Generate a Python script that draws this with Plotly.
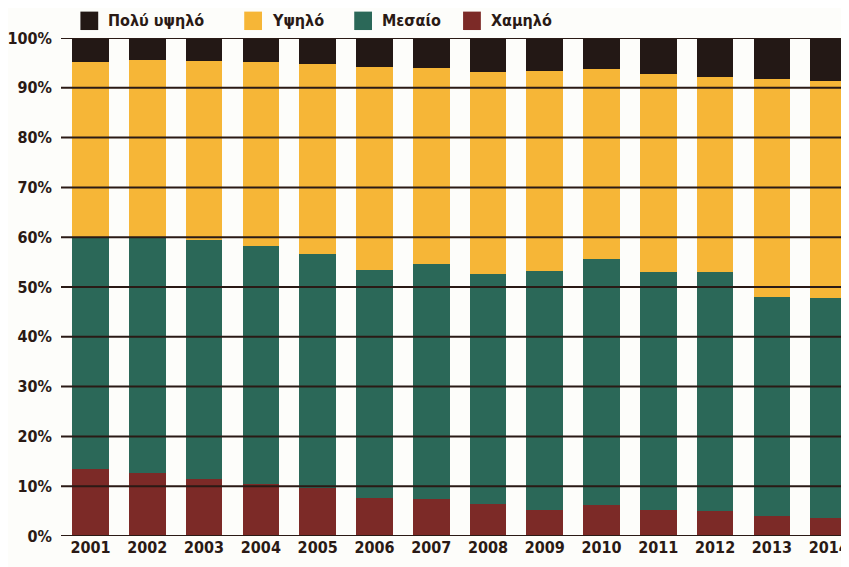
import plotly.graph_objects as go

years = ["2001", "2002", "2003", "2004", "2005", "2006", "2007", "2008",
         "2009", "2010", "2011", "2012", "2013", "2014"]
low = [13.5, 12.7, 11.5, 10.5, 9.7, 7.7, 7.4, 6.4, 5.3, 6.2, 5.2, 5.1, 4.0, 3.7]
medium = [46.5, 47.3, 48.0, 47.8, 46.9, 45.7, 47.2, 46.2, 48.0, 49.5, 47.8, 47.9, 44.0, 44.1]
high = [35.2, 35.6, 35.8, 36.9, 38.1, 40.8, 39.4, 40.5, 40.0, 38.0, 39.7, 39.1, 43.8, 43.5]
very_high = [4.8, 4.4, 4.7, 4.8, 5.3, 5.8, 6.0, 6.9, 6.7, 6.3, 7.3, 7.9, 8.2, 8.7]

series = [
    ("Χαμηλό", low, "#7c2a27"),
    ("Μεσαίο", medium, "#2b6858"),
    ("Υψηλό", high, "#f6b637"),
    ("Πολύ υψηλό", very_high, "#231815"),
]
legend_order = ["Πολύ υψηλό", "Υψηλό", "Μεσαίο", "Χαμηλό"]
legend_swatch_x = [0.0248, 0.234, 0.3745, 0.5135]   # paper fractions of legend swatches
y_ticks = [0, 10, 20, 30, 40, 50, 60, 70, 80, 90, 100]

FONT = "DejaVu Sans Condensed, Liberation Sans Narrow, Arial Narrow, sans-serif"
INK = "#2a1a15"

fig = go.Figure()
for name, vals, col in series:
    fig.add_trace(go.Bar(x=years, y=vals, name=name, showlegend=False,
                         marker=dict(color=col, line=dict(width=0))))

shapes = []
for t in y_ticks:
    shapes.append(dict(type="line", xref="paper", yref="y", x0=0, x1=1, y0=t, y1=t,
                       line=dict(color=INK, width=2), layer="above"))

colors = {n: c for n, _, c in series}
annotations = []
sw_w = 18 / 792
for name, sx in zip(legend_order, legend_swatch_x):
    shapes.append(dict(type="rect", xref="paper", yref="paper", x0=sx, x1=sx + sw_w,
                       y0=1.016, y1=1.053, fillcolor=colors[name], line=dict(width=0)))
    annotations.append(dict(text=name, xref="paper", yref="paper", x=sx + sw_w + 8 / 792,
                            y=1.0345, xanchor="left", yanchor="middle", showarrow=False,
                            font=dict(size=16, family=FONT, color=INK, weight="bold")))

fig.update_layout(
    barmode="stack",
    bargap=0.355,
    width=841, height=559,
    margin=dict(l=49, r=0, t=30, b=31),
    paper_bgcolor="#fdfdfa",
    plot_bgcolor="#fdfdfa",
    font=dict(family=FONT, color=INK, size=16),
    shapes=shapes,
    annotations=annotations,
    xaxis=dict(range=[-0.52, 13.27], showgrid=False, zeroline=False, showline=False,
               ticks="", tickfont=dict(size=16, family=FONT, color=INK, weight="bold")),
    yaxis=dict(range=[0, 100], tickvals=y_ticks, ticktext=[f"{t}%" for t in y_ticks],
               showgrid=False, zeroline=False, showline=False, ticks="",
               ticklabelstandoff=8,
               tickfont=dict(size=16, family=FONT, color=INK, weight="bold")),
)

fig.write_html("out.html")
